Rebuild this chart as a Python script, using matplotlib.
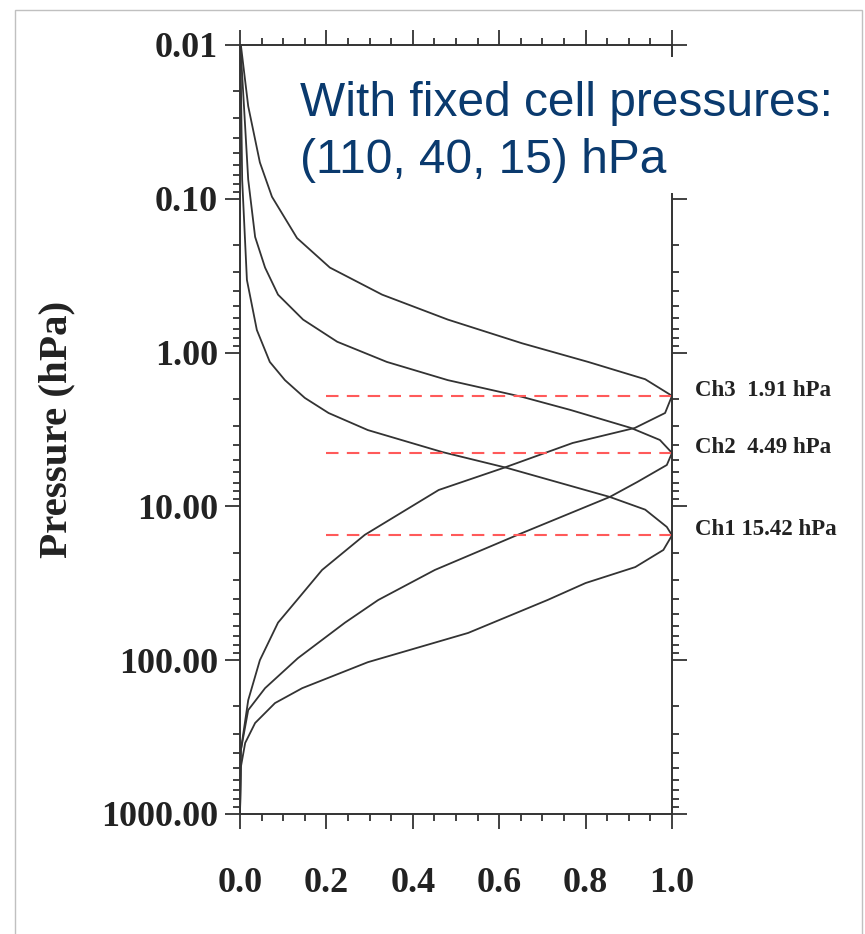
import numpy as np
import matplotlib.pyplot as plt
from matplotlib.patches import Rectangle
from matplotlib.ticker import FixedLocator, FixedFormatter, MultipleLocator, NullFormatter

# Weighting functions (pressure in hPa, normalised weight)
p_ch1 = [0.01, 0.075, 0.337, 0.713, 1.15, 1.51, 1.97, 2.47, 3.19, 4.43, 5.62, 8.68,
         10.5, 13.6, 15.42, 19.2, 24.8, 31.5, 40.6, 66.5, 103, 152, 190, 256, 345, 494, 1000]
w_ch1 = [0.001, 0.005, 0.016, 0.039, 0.069, 0.104, 0.150, 0.205, 0.296, 0.468, 0.618, 0.856,
         0.938, 0.988, 1.0, 0.980, 0.915, 0.800, 0.712, 0.528, 0.296, 0.144, 0.081, 0.035, 0.012, 0.002, 0.0]

p_ch2 = [0.01, 0.075, 0.177, 0.28, 0.42, 0.61, 0.85, 1.15, 1.51, 1.94, 2.36, 3.09, 3.70,
         4.49, 5.38, 6.93, 8.68, 15.3, 25.9, 40.6, 57, 97, 152, 211, 384, 1000]
w_ch2 = [0.001, 0.019, 0.035, 0.058, 0.088, 0.146, 0.225, 0.340, 0.481, 0.653, 0.765, 0.905, 0.972,
         1.0, 0.988, 0.920, 0.856, 0.643, 0.451, 0.320, 0.243, 0.134, 0.058, 0.019, 0.002, 0.0]

p_ch3 = [0.01, 0.025, 0.058, 0.097, 0.18, 0.28, 0.42, 0.61, 0.87, 1.15, 1.49, 1.91, 2.47,
         3.09, 3.87, 5.62, 7.82, 15.3, 25.9, 40.6, 57, 100, 182, 384, 1000]
w_ch3 = [0.002, 0.019, 0.046, 0.074, 0.132, 0.208, 0.329, 0.481, 0.653, 0.806, 0.938, 1.0, 0.984,
         0.914, 0.770, 0.610, 0.460, 0.289, 0.190, 0.132, 0.088, 0.046, 0.019, 0.002, 0.0]

ch_names = ['Ch1', 'Ch2', 'Ch3']
peak_p = [15.42, 4.49, 1.91]
peak_labels = ['Ch1 15.42 hPa', 'Ch2  4.49 hPa', 'Ch3  1.91 hPa']

y_ticks = [0.01, 0.1, 1, 10, 100, 1000]
y_ticklabels = ['0.01', '0.10', '1.00', '10.00', '100.00', '1000.00']
x_ticks = [0.0, 0.2, 0.4, 0.6, 0.8, 1.0]
x_ticklabels = ['0.0', '0.2', '0.4', '0.6', '0.8', '1.0']

W, H = 865, 934
fig = plt.figure(figsize=(W / 100, H / 100), dpi=100)
ax = fig.add_axes([240 / W, 1 - 814 / H, 432 / W, 769 / H])

line_col = '#333333'
for p, w in [(p_ch1, w_ch1), (p_ch2, w_ch2), (p_ch3, w_ch3)]:
    ax.plot(w, p, color=line_col, lw=1.3)

# red dashed lines at the peaks
for pk, lab in zip(peak_p, peak_labels):
    ax.plot([0.2, 1.0], [pk, pk], color='#ff5a5a', lw=1.5, dashes=(6, 4))
    ax.text(1.053, pk, lab, ha='left', va='baseline', fontsize=16.5,
            family='Liberation Serif', fontweight='bold', color='#222222', clip_on=False)

ax.set_yscale('log')
ax.set_ylim(1000, 0.01)
ax.set_xlim(0, 1)

ax.yaxis.set_major_locator(FixedLocator(y_ticks))
ax.yaxis.set_major_formatter(FixedFormatter(y_ticklabels))
minor = [m * 10.0 ** e for e in range(-2, 3) for m in range(2, 10)]
ax.yaxis.set_minor_locator(FixedLocator(minor))
ax.yaxis.set_minor_formatter(NullFormatter())
ax.xaxis.set_major_locator(FixedLocator(x_ticks))
ax.xaxis.set_major_formatter(FixedFormatter(x_ticklabels))
ax.xaxis.set_minor_locator(MultipleLocator(0.05))

ax.tick_params(which='both', direction='out', top=True, right=True, color=line_col, width=1.3)
ax.tick_params(which='major', length=11)
ax.tick_params(which='minor', length=5)
ax.tick_params(axis='y', which='major', pad=5)
ax.tick_params(axis='x', which='major', pad=27)
for spine in ax.spines.values():
    spine.set_color(line_col)
    spine.set_linewidth(1.4)

for t in ax.get_xticklabels() + ax.get_yticklabels():
    t.set_family('Liberation Serif')
    t.set_fontweight('bold')
    t.set_fontsize(26)
    t.set_color('#222222')

ax.set_ylabel('Pressure (hPa)', family='Liberation Serif', fontweight='bold',
              fontsize=29.5, color='#222222')
ax.yaxis.set_label_coords(-0.382, 0.5)

# white box behind the annotation, covering part of the frame
fig.patches.append(Rectangle((290 / W, 1 - 193 / H), (858 - 290) / W, (193 - 57) / H,
                             transform=fig.transFigure, facecolor='white',
                             edgecolor='none', zorder=5))
fig.text(300 / W, 1 - 116 / H, 'With fixed cell pressures:',
         family='Liberation Sans', fontsize=34.5, color='#0a3a6e',
         ha='left', va='baseline', zorder=6)
fig.text(300 / W, 1 - 173 / H, '(110, 40, 15) hPa',
         family='Liberation Sans', fontsize=34.5, color='#0a3a6e',
         ha='left', va='baseline', zorder=6)

# thin grey frame around the picture
fig.patches.append(Rectangle((15 / W, -0.01), (862 - 15) / W, 1 - 10 / H + 0.01,
                             transform=fig.transFigure, facecolor='none',
                             edgecolor='#c0c0c0', lw=1.0, zorder=7))

fig.savefig('out.png', dpi=100)
